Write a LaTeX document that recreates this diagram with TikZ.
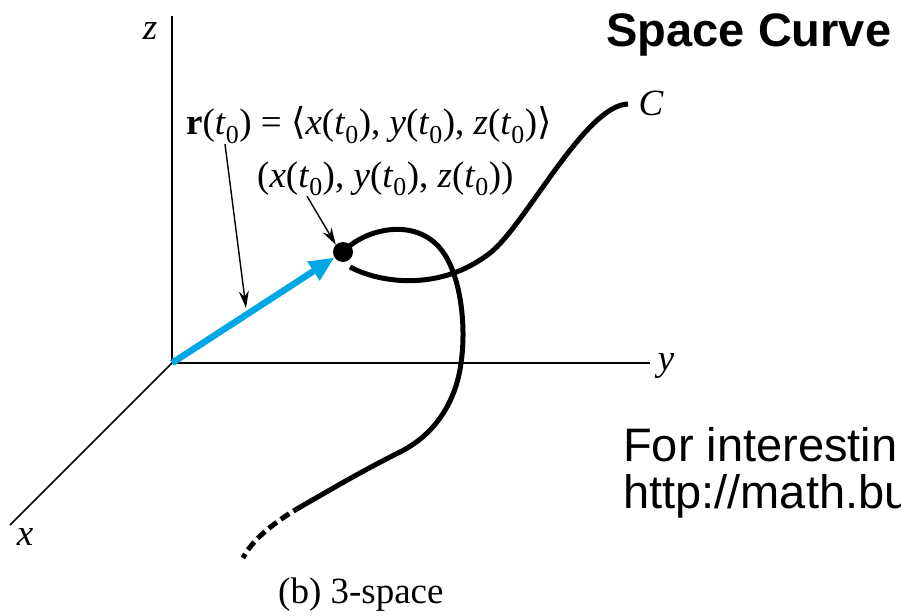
\documentclass[tikz,border=0pt]{standalone}
\usepackage{fontspec}
\setmainfont{Liberation Serif}
\setsansfont{Liberation Sans}
\newfontfamily\bracketfont{DejaVu Sans}
\usetikzlibrary{arrows.meta}
\definecolor{vecblue}{RGB}{0,166,230}
\newcommand{\tnull}{\textit{t}\textsubscript{0}}

\begin{document}
\begin{tikzpicture}[x=1pt,y=-1pt,
  axis/.style={line width=1.6pt},
  curve/.style={line width=5pt},
  pointer/.style={line width=1.4pt,-{Stealth[length=17pt,width=10pt]}},
  serif/.style={font=\fontsize{37}{42}\selectfont},
  mathlab/.style={font=\fontsize{37}{42}\selectfont\itshape},
  sans/.style={font=\sffamily\fontsize{47}{50}\selectfont},
  heading/.style={font=\sffamily\bfseries\fontsize{47}{50}\selectfont}]
\useasboundingbox (0,0) rectangle (901,615);
\clip (0,0) rectangle (901,615);

\coordinate (O) at (172,363);
\coordinate (ztop) at (172,16);
\coordinate (yend) at (650,363);
\coordinate (xend) at (10,525);
\draw[axis] (ztop) -- (O) -- (yend);
\draw[axis] (O) -- (xend);
\node[mathlab] (zlab) at (150,31) {z};
\node[mathlab] (ylab) at (666,366) {y};
\node[mathlab] (xlab) at (25,537) {x};

\node[heading,anchor=base west] (title) at (603,47) {Space Curve};
\node[sans,anchor=base west,inner sep=0] (note1) at (623,461) {For interestin};
\node[sans,anchor=base west,inner sep=0] (note2) at (623,508) {http://math.bu};

\node[serif,anchor=base west,inner sep=0] (rlab) at (186,135)
  {\textbf{r}(\tnull) = {\bracketfont ⟨}\textit{x}(\tnull), \textit{y}(\tnull), \textit{z}(\tnull){\bracketfont ⟩}};
\node[serif,anchor=base west,inner sep=0] (ptlab) at (257,187)
  {(\textit{x}(\tnull), \textit{y}(\tnull), \textit{z}(\tnull))};
\node[mathlab] (Clab) at (651,103) {C};
\node[serif,anchor=base west,inner sep=0] (caption) at (278,603) {(b) 3-space};

\draw[curve] (350,267) .. controls (380,283) and (440,292) .. (490,253)
  .. controls (525,226) and (585,105) .. (628,104);
\draw[curve] (343,252) .. controls (365,228) and (420,215) .. (445,255)
  .. controls (462,282) and (466,330) .. (461,363)
  .. controls (457,395) and (440,432) .. (400,452)
  .. controls (360,472) and (330,490) .. (302,506);
\draw[curve,dash pattern=on 10pt off 5pt] (302,506) .. controls (274,522) and (252,540) .. (243,558);

\node[circle,fill,inner sep=0,minimum size=20pt] (P) at (343,252) {};
\coordinate (rtip) at (246,308);
\draw[line width=6.5pt,vecblue,-{Triangle[length=25pt,width=21pt]}] (O) -- (P);
\draw[pointer] ([xshift=39pt]rlab.south west) -- (rtip);
\draw[pointer] ([xshift=50pt]ptlab.south west) -- (P.north west);
\end{tikzpicture}
\end{document}
